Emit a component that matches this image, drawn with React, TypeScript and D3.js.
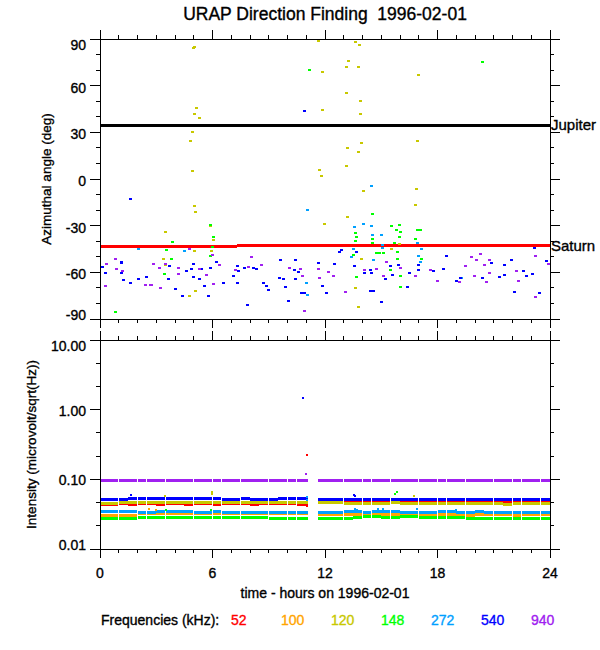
import * as d3 from 'd3';

const FONT = "'Liberation Sans', Arial, Helvetica, sans-serif";

// frequencies and their colours (legend order = drawing order)
const frequencies = ['52', '100', '120', '148', '272', '540', '940'];
const freqColors = ['#ff0000', '#ffa500', '#c8c800', '#00ff00', '#00a0ff', '#0000ff', '#a020f0'];

const hourTicks = [0, 6, 12, 18, 24];
const angleTicks = [90, 60, 30, 0, -30, -60, -90];
const intensityTicks = [10, 1, 0.1, 0.01];
const intensityTickLabels = ['10.00', '1.00', '0.10', '0.01'];

// planet directions (deg)
const jupiterAngle = 34.7;
const saturnHours = [0, 7.3, 24];
const saturnAngles = [-43.6, -43.0];

// direction-finding points: [hour, azimuth deg]
const dir52: [number, number][] = [];
const dir100: [number, number][] = [];
const dir120: [number, number][] = [
  [3.41, -51.7], [3.48, -34.1], [3.5, -55.5], [4.77, -75.5], [4.85, 24.2], [4.93, 4.9],
  [4.94, 30.4], [4.98, 84.4], [5.03, 85], [5.04, 41.6], [5.04, -46], [5.05, -17.4],
  [5.08, -72.3], [5.1, -21], [5.16, 45.5], [5.3, 39], [5.9, -30.5], [5.97, -46.1],
  [6.03, -38.9], [11.66, 88.9], [11.7, 6], [11.82, 2], [11.84, 44.2], [11.88, 68.8],
  [11.95, -29], [13.12, 72.2], [13.12, 8.6], [13.16, 55.5], [13.19, 19.9], [13.19, -24.7],
  [13.24, 75.7], [13.62, 88.1], [13.65, -70.1], [13.76, 72.2], [13.76, -82.6], [13.8, 17.2],
  [13.83, 86.2], [13.87, 41.6], [13.9, 50.4], [13.92, -51.5], [13.94, 23.1], [14.06, -7.9],
  [15.54, -45], [15.95, -41.6], [15.96, -37], [16.84, -17], [16.87, -6.2], [16.92, 24.6],
  [16.98, 66.7],
];
const dir148: [number, number][] = [
  [0.82, -85.3], [3.45, -60.9], [3.52, -45.5], [3.79, -51.5], [3.86, -40.8], [5.87, -49.3],
  [5.9, -29.6], [6.0, -44], [6.04, -37.3], [11.17, 69.9], [13.5, -49], [13.64, -34.7],
  [13.65, -40.1], [13.7, -37], [13.7, -63.2], [14.51, -22.3], [14.53, -38.4], [14.53, -41.2],
  [14.74, -47.8], [14.93, -47.8], [15.1, -47.6], [15.5, -58.3], [15.52, -30.5], [15.7, -41.2],
  [15.79, -33], [15.88, -47.2], [15.88, -51.5], [15.95, -29.4], [15.96, -37], [16.0, -34.3],
  [16.0, -62.2], [16.04, -69.3], [16.8, -38.4], [16.92, -33], [17.1, -32.6], [17.12, -51.5],
  [20.41, 75],
];
const dir272: [number, number][] = [
  [2.03, -44.8], [4.48, -46.6], [11.0, -66.7], [11.06, -20.1], [11.06, -74.4], [13.39, -50.4],
  [13.51, -45], [13.56, -30.9], [14.06, -29], [14.47, -4.5], [14.49, -30.5], [14.52, -36.3],
  [14.6, -52.1], [15.02, -36.3], [15.06, -42.3], [15.06, -44.4], [16.94, -41.2], [16.96, -49.3],
  [17.07, -53.2], [17.15, -45], [19.28, -63.5],
];
const dir540: [number, number][] = [
  [0.14, -56.4], [0.28, -60.7], [1.12, -53.2], [1.14, -54], [1.16, -60.2], [1.24, -65],
  [1.6, -67], [1.63, -13], [2.06, -64.5], [2.49, -62.8], [3.63, -64.6], [3.73, -56.2],
  [4.02, -70.5], [4.41, -75], [4.62, -59.4], [4.9, -57.9], [4.98, -54.7], [5.01, -63.3],
  [5.28, -64.6], [5.39, -57.6], [5.55, -69.1], [5.81, -74.9], [5.9, -57.2], [6.22, -53.4],
  [6.58, -66.9], [7.11, -62.6], [7.32, -56.2], [7.32, -66.9], [7.4, -59.4], [7.68, -56.9],
  [7.87, -80.8], [8.18, -57], [8.36, -58], [8.71, -66.7], [8.89, -68.7], [8.99, -71.4],
  [9.6, -52], [9.57, -63.9], [9.79, -64], [9.87, -69.2], [10.06, -78.2], [10.42, -52],
  [10.38, -58.7], [10.61, -59.6], [10.44, -64], [10.77, -73.1], [10.88, -73.1], [10.9, 43.9],
  [11.64, -54.2], [11.88, -68.6], [12.09, -73.5], [12.53, -54.5], [12.75, -47.2], [12.9, -45.6],
  [13.55, -55.8], [13.69, -47.2], [14.1, -60.2], [14.4, -71.8], [14.44, -58.3], [14.46, -60.2],
  [14.58, -71.8], [15.02, -78.9], [15.2, -64.1], [15.5, -55.8], [15.6, -61.5], [15.91, -55.1],
  [16.4, -69.3], [16.48, -60.4], [16.96, -58.3], [16.98, -55.1], [17.8, -59.3], [18.3, -58.1],
  [18.49, -49.5], [19.02, -65.6], [19.24, -63.8], [20.41, -63.9], [20.9, -53.8], [21.28, -62.8],
  [21.55, -55.3], [21.55, -61.7], [21.97, -52.1], [22.08, -72.7], [22.61, -59], [22.72, -62.1],
  [23.04, -61.1], [23.15, -44.2], [23.43, -73.5], [23.79, -52.5],
];
const dir940: [number, number][] = [
  [0.27, -68.8], [0.32, -54.9], [0.85, -51.4], [0.9, -57.7], [1.18, -59], [2.4, -68.2],
  [2.67, -68.2], [2.76, -68], [2.84, -54.7], [3.17, -57.2], [3.2, -70.1], [3.47, -54.7],
  [4.18, -57.2], [4.18, -61.1], [4.77, -44.8], [5.32, -57.6], [5.69, -62], [6.0, -48.7],
  [6.04, -67.3], [6.37, -55.6], [7.25, -58.8], [7.93, -56.4], [8.09, -50.2], [8.6, -55],
  [10.13, -57.4], [10.7, -58.1], [10.8, -62.1], [10.9, -85], [11.66, -58], [11.7, -63.6],
  [12.2, -59.6], [12.44, -62.6], [13.07, -72.5], [14.1, -58.3], [14.76, -57.9], [15.11, -62.2],
  [15.29, -53.2], [16.04, -57.5], [16.84, -62.2], [17.6, -58.3], [17.99, -65.4], [19.16, -66],
  [19.5, -55.9], [19.8, -50], [19.96, -62.4], [20.09, -52.1], [20.3, -48.4], [20.5, -55.3],
  [20.59, -66.2], [20.75, -51.9], [20.75, -60.2], [22.22, -59.2], [22.31, -65.6], [23.22, -49.5],
  [23.22, -76.1], [23.91, -54.9],
];
const dirSeries = [dir52, dir100, dir120, dir148, dir272, dir540, dir940];

// intensity bins: edges in hours (gap 11.1-11.6)
const intensityEdges = [
  0, 0.5, 1, 1.5, 2, 2.5, 3, 3.5, 4, 4.5, 5, 5.5, 6, 6.5, 7, 7.5, 8, 8.5, 9, 9.5, 10, 10.5,
  11.1, 11.6, 12, 12.5, 13, 13.5, 14, 14.5, 15, 15.5, 16, 16.5, 17, 17.5, 18, 18.5, 19, 19.5,
  20, 20.5, 21, 21.5, 22, 22.5, 23, 23.5, 24,
];
// intensity per bin (microvolt/sqrt(Hz)), null = no data
const int52 = [
  0.044, 0.044, 0.045, 0.044, 0.045, 0.045, 0.044, 0.045, 0.045, 0.044, 0.045, 0.045, 0.044, 0.045,
  0.045, 0.045, 0.044, 0.045, 0.045, 0.045, 0.045, 0.044, null,
  0.046, 0.046, 0.046, 0.046, 0.048, 0.048, 0.048, 0.048, 0.048, 0.048, 0.048, 0.048, 0.048,
  0.048, 0.048, 0.048, 0.048, 0.048, 0.048, 0.048, 0.048, 0.048, 0.048, 0.048, 0.048,
];
const int100 = [
  0.030, 0.030, 0.030, 0.030, 0.032, 0.032, 0.032, 0.032, 0.032, 0.032, 0.032, 0.032, 0.032, 0.032,
  0.032, 0.032, 0.032, 0.032, 0.032, 0.032, 0.032, 0.032, null,
  0.031, 0.031, 0.031, 0.031, 0.031, 0.031, 0.031, 0.031, 0.031, 0.031, 0.031, 0.031, 0.031,
  0.031, 0.031, 0.031, 0.030, 0.031, 0.031, 0.031, 0.031, 0.030, 0.031, 0.031, 0.031,
];
const int120 = [
  0.045, 0.045, 0.046, 0.046, 0.046, 0.046, 0.046, 0.046, 0.046, 0.046, 0.046, 0.046, 0.046, 0.046,
  0.046, 0.046, 0.046, 0.046, 0.046, 0.046, 0.046, 0.046, null,
  0.046, 0.046, 0.046, 0.045, 0.045, 0.045, 0.045, 0.045, 0.046, 0.045, 0.045, 0.045, 0.045,
  0.045, 0.045, 0.045, 0.045, 0.045, 0.045, 0.045, 0.044, 0.045, 0.045, 0.045, 0.045,
];
const int148 = [
  0.027, 0.027, 0.027, 0.027, 0.028, 0.028, 0.028, 0.028, 0.028, 0.028, 0.028, 0.028, 0.028, 0.028,
  0.028, 0.028, 0.028, 0.028, 0.027, 0.027, 0.027, 0.027, null,
  0.027, 0.027, 0.027, 0.027, 0.028, 0.029, 0.029, 0.028, 0.028, 0.029, 0.029, 0.028, 0.028,
  0.028, 0.028, 0.028, 0.027, 0.027, 0.027, 0.027, 0.027, 0.027, 0.027, 0.027, 0.027,
];
const int272 = [
  0.034, 0.034, 0.035, 0.034, 0.033, 0.033, 0.034, 0.034, 0.034, 0.034, 0.033, 0.033, 0.034, 0.033,
  0.033, 0.033, 0.033, 0.033, 0.033, 0.033, 0.033, 0.033, null,
  0.033, 0.033, 0.033, 0.034, 0.034, 0.033, 0.034, 0.034, 0.034, 0.033, 0.033, 0.033, 0.033,
  0.034, 0.034, 0.033, 0.033, 0.034, 0.033, 0.033, 0.033, 0.033, 0.033, 0.033, 0.033,
];
const int540 = [
  0.052, 0.052, 0.052, 0.053, 0.053, 0.053, 0.053, 0.053, 0.053, 0.053, 0.053, 0.053, 0.053, 0.052,
  0.052, 0.053, 0.052, 0.052, 0.052, 0.053, 0.053, 0.053, null,
  0.052, 0.052, 0.052, 0.052, 0.052, 0.051, 0.051, 0.051, 0.052, 0.051, 0.051, 0.051, 0.052,
  0.052, 0.051, 0.052, 0.052, 0.052, 0.051, 0.052, 0.052, 0.052, 0.052, 0.051, 0.051,
];
const int940 = [
  0.096, 0.096, 0.097, 0.097, 0.097, 0.096, 0.097, 0.097, 0.097, 0.097, 0.096, 0.097, 0.097, 0.097,
  0.096, 0.097, 0.097, 0.097, 0.096, 0.096, 0.097, 0.097, null,
  0.095, 0.095, 0.095, 0.095, 0.095, 0.095, 0.095, 0.095, 0.095, 0.095, 0.095, 0.095, 0.095,
  0.095, 0.095, 0.095, 0.095, 0.095, 0.095, 0.095, 0.095, 0.095, 0.095, 0.095, 0.095,
];
const intensitySeries = [int52, int100, int120, int148, int272, int540, int940];

// isolated intensity samples: [hour, value, frequency index]
const intensitySpikes: [number, number, number][] = [
  [10.85, 1.45, 5], [11.05, 0.22, 0], [11.0, 0.12, 6], [11.05, 0.042, 0], [11.05, 0.055, 4],
  [11.05, 0.05, 4], [1.65, 0.06, 5], [5.95, 0.066, 2], [5.95, 0.062, 2], [3.45, 0.057, 2],
  [2.6, 0.037, 1], [3.0, 0.036, 1], [3.5, 0.036, 3], [5.9, 0.036, 3], [13.55, 0.06, 5],
  [13.6, 0.057, 5], [15.85, 0.066, 3], [15.75, 0.061, 3], [16.75, 0.058, 2], [13.6, 0.038, 4],
  [13.7, 0.036, 4], [14.8, 0.037, 4], [15.1, 0.038, 4], [16.9, 0.037, 4], [19.0, 0.036, 4],
  [20.4, 0.099, 6],
];

const left = 100;
const right = 550;
const topA = 39;
const botA = 319;
const topI = 340;
const botI = 549;

export default function App() {
  const x = d3.scaleLinear().domain([0, 24]).range([left, right]);
  const yA = d3.scaleLinear().domain([-90, 90]).range([botA, topA]);
  const yI = d3.scaleLog().domain([0.01, 10]).range([botI, topI]);

  const hourMinor = d3.range(0, 25, 1).filter((h) => h % 6 !== 0);
  const angleMinor = d3.range(-90, 91, 10).filter((a) => a % 30 !== 0);
  const intMinor = [-2, -1, 0].flatMap((e) => [e + 1 / 3, e + 2 / 3]).map((e) => 10 ** e);

  // IDL-style text is a bit heavier than plain Arial, so add a thin outline
  const txt = { fontFamily: FONT, fill: '#000', stroke: '#000', strokeWidth: 0.35 };
  const clampBase = (v: number, lo: number, hi: number) => Math.max(lo, Math.min(hi, v));

  const xTicks = (yEdge: number, dir: number) => (
    <g stroke="#000" strokeWidth={1}>
      {hourTicks.map((h) => (
        <line key={'M' + h} x1={x(h)} x2={x(h)} y1={yEdge} y2={yEdge + dir * 9} />
      ))}
      {hourMinor.map((h) => (
        <line key={'m' + h} x1={x(h)} x2={x(h)} y1={yEdge} y2={yEdge + dir * 4} />
      ))}
    </g>
  );

  return (
    <svg
      width={600}
      height={650}
      style={{ position: 'absolute', left: 0, top: 0, background: '#fff' }}
      shapeRendering="crispEdges"
    >
      <text
        x={325}
        y={20}
        textAnchor="middle"
        fontSize={17.5}
        style={{ whiteSpace: 'pre' }}
        {...txt}
      >
        {'URAP Direction Finding  1996-02-01'}
      </text>

      {/* ---------- direction panel ---------- */}
      <line x1={x(0)} x2={x(24)} y1={yA(jupiterAngle)} y2={yA(jupiterAngle)} stroke="#000" strokeWidth={3} />
      {saturnAngles.map((a, i) => (
        <line
          key={'sat' + i}
          x1={x(saturnHours[i])}
          x2={x(saturnHours[i + 1])}
          y1={yA(a)}
          y2={yA(a)}
          stroke="#ff0000"
          strokeWidth={3}
        />
      ))}
      {dirSeries.map((pts, fi) =>
        pts.map(([h, a], j) => (
          <rect
            key={`d${fi}-${j}`}
            x={x(h) - 1.5}
            y={yA(a) - 1}
            width={3}
            height={2}
            fill={freqColors[fi]}
          />
        )),
      )}
      <rect x={left} y={topA} width={right - left} height={botA - topA} fill="none" stroke="#000" />
      {xTicks(topA, -1)}
      {xTicks(botA, 1)}
      <g stroke="#000">
        {angleTicks.map((a) => (
          <g key={'at' + a}>
            <line x1={left - 10} x2={left} y1={yA(a)} y2={yA(a)} />
            <line x1={right} x2={right + 10} y1={yA(a)} y2={yA(a)} />
          </g>
        ))}
        {angleMinor.map((a) => (
          <g key={'am' + a}>
            <line x1={left - 4} x2={left} y1={yA(a)} y2={yA(a)} />
            <line x1={right} x2={right + 4} y1={yA(a)} y2={yA(a)} />
          </g>
        ))}
      </g>
      {angleTicks.map((a) => (
        <text
          key={'al' + a}
          x={86}
          y={clampBase(yA(a) + 7, topA + 11, botA + 1)}
          textAnchor="end"
          fontSize={14}
          {...txt}
        >
          {a}
        </text>
      ))}
      <text
        transform={`translate(51,${(topA + botA) / 2}) rotate(-90)`}
        textAnchor="middle"
        fontSize={13.5}
        {...txt}
      >
        Azimuthal angle (deg)
      </text>
      <text x={551} y={yA(jupiterAngle) + 5} fontSize={15} {...txt}>
        Jupiter
      </text>
      <text x={551} y={yA(saturnAngles[1]) + 5} fontSize={15} {...txt}>
        Saturn
      </text>

      {/* ---------- intensity panel ---------- */}
      {intensitySeries.map((vals, fi) =>
        vals.map((v, i) =>
          v == null ? null : (
            <rect
              key={`i${fi}-${i}`}
              x={x(intensityEdges[i])}
              y={yI(v) - 1.5}
              width={x(intensityEdges[i + 1]) - x(intensityEdges[i]) - 0.5}
              height={3}
              fill={freqColors[fi]}
            />
          ),
        ),
      )}
      {intensitySpikes.map(([h, v, fi], j) => (
        <rect key={'s' + j} x={x(h) - 1} y={yI(v) - 1} width={2} height={2} fill={freqColors[fi]} />
      ))}
      <rect x={left} y={topI} width={right - left} height={botI - topI} fill="none" stroke="#000" />
      {xTicks(topI, -1)}
      {xTicks(botI, 1)}
      <g stroke="#000">
        {intensityTicks.map((v) => (
          <g key={'it' + v}>
            <line x1={left - 10} x2={left} y1={yI(v)} y2={yI(v)} />
            <line x1={right} x2={right + 10} y1={yI(v)} y2={yI(v)} />
          </g>
        ))}
        {intMinor.map((v, i) => (
          <g key={'im' + i}>
            <line x1={left - 4} x2={left} y1={yI(v)} y2={yI(v)} />
            <line x1={right} x2={right + 4} y1={yI(v)} y2={yI(v)} />
          </g>
        ))}
      </g>
      {intensityTicks.map((v, i) => (
        <text
          key={'il' + v}
          x={86}
          y={clampBase(yI(v) + 6, topI + 11, botI + 1)}
          textAnchor="end"
          fontSize={14}
          {...txt}
        >
          {intensityTickLabels[i]}
        </text>
      ))}
      <text
        transform={`translate(36,${(topI + botI) / 2}) rotate(-90)`}
        textAnchor="middle"
        fontSize={13.5}
        {...txt}
      >
        Intensity (microvolt/sqrt(Hz))
      </text>

      {hourTicks.map((h) => (
        <text key={'xl' + h} x={x(h)} y={578} textAnchor="middle" fontSize={14} {...txt}>
          {h}
        </text>
      ))}
      <text x={325} y={598} textAnchor="middle" fontSize={14} {...txt}>
        time - hours on 1996-02-01
      </text>

      {/* legend */}
      <text x={101} y={625} fontSize={14} {...txt}>
        Frequencies (kHz):
      </text>
      {frequencies.map((f, i) => (
        <text
          key={'lg' + f}
          x={231 + i * 50}
          y={625}
          fontSize={14}
          fontFamily={FONT}
          fill={freqColors[i]}
          stroke={freqColors[i]}
          strokeWidth={0.35}
        >
          {f}
        </text>
      ))}
    </svg>
  );
}
